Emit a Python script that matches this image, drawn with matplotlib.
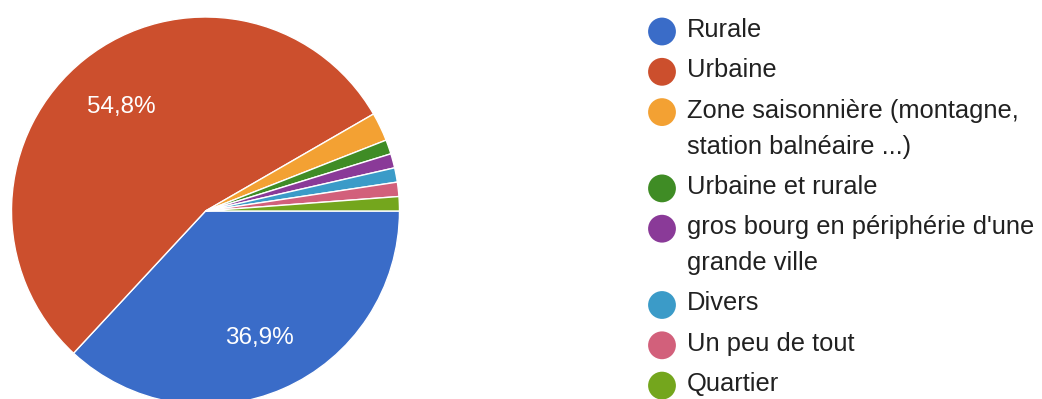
import matplotlib
matplotlib.use("Agg")
import matplotlib.pyplot as plt

# Response counts per type of area
categories = [
    "Rurale",
    "Urbaine",
    "Zone saisonnière (montagne,\nstation balnéaire ...)",
    "Urbaine et rurale",
    "gros bourg en périphérie d'une\ngrande ville",
    "Divers",
    "Un peu de tout",
    "Quartier",
]
counts = [31, 46, 2, 1, 1, 1, 1, 1]
colors = ["#3a6cc8", "#cc4f2d", "#f3a133", "#3f8c25",
          "#8a3a98", "#3b9bc8", "#d2607b", "#74a61d"]

plt.rcParams["font.family"] = ["Liberation Sans", "DejaVu Sans"]

W, H = 1042, 399
fig = plt.figure(figsize=(W / 100, H / 100), dpi=100)

# Pie axes placed in pixel units
cx, cy, r = 205.5, 211.0, 194.0
ax = fig.add_axes([(cx - r) / W, (H - cy - r) / H, 2 * r / W, 2 * r / H])


def fmt(p):
    return f"{p:.1f}%".replace(".", ",") if p > 5 else ""


wedges, texts, autotexts = ax.pie(
    counts,
    colors=colors,
    startangle=0,
    counterclock=False,
    radius=1.0,
    autopct=fmt,
    pctdistance=0.7,
    wedgeprops=dict(edgecolor="white", linewidth=1.0),
    textprops=dict(color="white", fontsize=17.5),
)
for t in autotexts:
    t.set_va("center_baseline")
ax.set_xlim(-1, 1)
ax.set_ylim(-1, 1)
ax.set_aspect("equal")
ax.axis("off")

# Legend drawn in pixel coordinates
lax = fig.add_axes([0, 0, 1, 1])
lax.set_xlim(0, W)
lax.set_ylim(H, 0)
lax.axis("off")

item_gap = 40.3
line_gap = 36.0
y = 30.0
for name, col in zip(categories, colors):
    lines = name.split("\n")
    lax.scatter([662], [y + 1.5], s=27 ** 2 * 0.55, color=col,
                edgecolors="none")
    for i, line in enumerate(lines):
        lax.text(687, y + i * line_gap, line, fontsize=18.4, color="#212121",
                 va="center", ha="left")
    y += item_gap + line_gap * (len(lines) - 1)

fig.savefig("out.png", dpi=100)
